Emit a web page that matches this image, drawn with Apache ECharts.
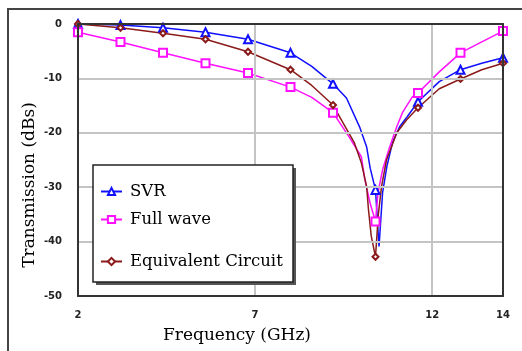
<!DOCTYPE html>
<html>
<head>
<meta charset="utf-8">
<script src="https://cdn.jsdelivr.net/npm/echarts@6/dist/echarts.min.js"></script>
<style>
html,body{margin:0;padding:0;background:#fff;}
#c{width:522px;height:351px;}
</style>
</head>
<body>
<div id="c"></div>
<script>
// ---- data ----
const xTickLabels = [2, 7, 12, 14];
const xGridValues = [7, 12];
const markerFreqs = [2, 3.2, 4.4, 5.6, 6.8, 8, 9.2, 10.4, 11.6, 12.8, 14];

const svrFreq = [2, 3.2, 4.4, 5.6, 6.8, 8.0, 8.6, 9.2, 9.58, 9.95, 10.15, 10.25, 10.4, 10.5, 10.6, 10.72, 10.88, 11.08, 11.3, 11.6, 12.2, 12.8, 13.4, 14];
const svrDb   = [0, -0.2, -0.7, -1.5, -2.8, -5.3, -7.8, -11.0, -13.6, -18.9, -22.6, -26.5, -30.5, -40.9, -31.0, -26.2, -21.8, -18.9, -17.0, -14.3, -10.6, -8.4, -7.2, -6.2];

const fullFreq = [2, 3.2, 4.4, 5.6, 6.8, 8.0, 8.6, 9.2, 9.65, 10.0, 10.1, 10.25, 10.4, 10.47, 10.6, 10.8, 11.0, 11.16, 11.44, 11.6, 12.2, 12.8, 13.4, 14];
const fullDb   = [-1.5, -3.3, -5.3, -7.2, -9.0, -11.6, -13.5, -16.3, -20.7, -24.4, -28.6, -33.0, -36.3, -31.0, -26.8, -22.6, -18.9, -16.3, -13.4, -12.7, -8.8, -5.3, -3.3, -1.3];

const eqFreq = [2, 3.2, 4.4, 5.6, 6.8, 8.0, 8.6, 9.2, 9.8, 10.0, 10.15, 10.2, 10.28, 10.4, 10.48, 10.57, 10.71, 10.85, 11.0, 11.28, 11.6, 12.2, 12.8, 13.4, 14];
const eqDb   = [0, -0.7, -1.7, -2.8, -5.1, -8.4, -11.3, -14.9, -21.8, -25.5, -29.9, -34.0, -39.0, -42.8, -35.0, -29.9, -25.0, -22.6, -20.0, -17.6, -15.4, -11.9, -10.1, -8.4, -7.2];

const seriesNames = ['SVR', 'Full wave', 'Equivalent Circuit'];

// ---- build chart ----
function isMarker(f){ return markerFreqs.some(m => Math.abs(m - f) < 1e-6); }
function makeData(fr, db){
  return fr.map((f, i) => isMarker(f) ? [f, db[i]] : {value: [f, db[i]], symbol: 'none'});
}
function lineSeries(name, fr, db, color, symbol, size){
  return {
    name: name, type: 'line', data: makeData(fr, db),
    symbol: symbol, symbolSize: size, showSymbol: true,
    lineStyle: {color: color, width: 1.5},
    itemStyle: {color: color, borderWidth: 1.2},
    emphasis: {disabled: true},
    animation: false, z: 3
  };
}

const chart = echarts.init(document.getElementById('c'), null, {renderer: 'canvas'});
const serif = '"DejaVu Serif", "Liberation Serif", serif';
const legendBase = {
  orient: 'vertical', left: 95, itemWidth: 21, itemHeight: 9,
  textStyle: {fontFamily: serif, fontSize: 16.5, color: '#000', padding: [0, 0, 0, 3]},
  selectedMode: false, z: 20
};
const frameAxis = {
  type: 'value', axisLine: {show: true, onZero: false, lineStyle: {color: '#333', width: 2}},
  axisTick: {show: false}, axisLabel: {show: false}, splitLine: {show: false}
};
const labelFont = {fontFamily: '"DejaVu Sans", sans-serif', fontWeight: 'bold', fontSize: 10, color: '#222'};

chart.setOption({
  animation: false,
  backgroundColor: '#fff',
  grid: {left: 78, right: 19, top: 24, bottom: 55, containLabel: false},
  xAxis: [
    {
      type: 'value', min: 2, max: 14,
      axisLine: {show: true, onZero: false, lineStyle: {color: '#333', width: 2}},
      axisTick: {show: false, customValues: xGridValues},
      axisLabel: Object.assign({customValues: xTickLabels, margin: 14}, labelFont),
      splitLine: {show: true, lineStyle: {color: '#c4c4c4', width: 2}},
      z: 5
    },
    Object.assign({}, frameAxis, {min: 2, max: 14, position: 'top', z: 5})
  ],
  yAxis: [
    {
      type: 'value', min: -50, max: 0, interval: 10,
      axisLine: {show: true, onZero: false, lineStyle: {color: '#333', width: 2}},
      axisTick: {show: false},
      axisLabel: Object.assign({margin: 16, formatter: v => v === 0 ? '0' : '-' + Math.abs(v)}, labelFont),
      splitLine: {show: true, lineStyle: {color: '#c4c4c4', width: 2}},
      z: 5
    },
    Object.assign({}, frameAxis, {min: -50, max: 0, position: 'right', z: 5})
  ],
  legend: [
    Object.assign({}, legendBase, {data: [seriesNames[0]], top: 178}),
    Object.assign({}, legendBase, {data: [seriesNames[1]], top: 206}),
    Object.assign({}, legendBase, {data: [seriesNames[2]], top: 248})
  ],
  graphic: [
    {type: 'rect', shape: {x: 8, y: 9, width: 530, height: 360}, style: {fill: 'none', stroke: '#444', lineWidth: 2}, z: 1},
    {type: 'rect', shape: {x: 96, y: 168, width: 200, height: 117}, style: {fill: '#555'}, z: 10},
    {type: 'rect', shape: {x: 93, y: 165, width: 200, height: 117}, style: {fill: '#fff', stroke: '#222', lineWidth: 1.5}, z: 11},
    {type: 'text', x: 237, y: 336, style: {text: 'Frequency (GHz)', fontFamily: serif, fontSize: 17, fill: '#000', align: 'center', verticalAlign: 'middle'}, z: 12},
    {type: 'text', x: 30, y: 185, rotation: Math.PI / 2, style: {text: 'Transmission (dBs)', fontFamily: serif, fontSize: 17, fill: '#000', align: 'center', verticalAlign: 'middle'}, z: 12}
  ],
  series: [
    lineSeries(seriesNames[0], svrFreq, svrDb, '#1010ff', 'emptyTriangle', 8),
    lineSeries(seriesNames[1], fullFreq, fullDb, '#ff10ff', 'emptyRect', 8),
    lineSeries(seriesNames[2], eqFreq, eqDb, '#8b1a1a', 'emptyDiamond', 6)
  ]
});
</script>
</body>
</html>
